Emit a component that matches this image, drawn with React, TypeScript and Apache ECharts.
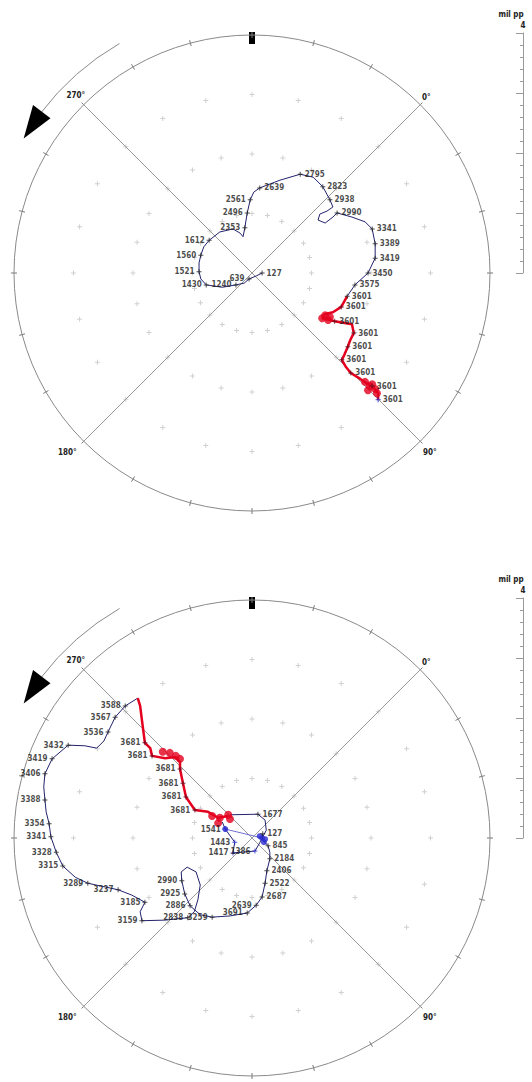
import React, { useEffect, useRef } from "react";
import * as echarts from "echarts";

type P = [number, number, string?];

// ---- Top orbit (mil pp; x to the right, y up) ----
const topRun: P[] = [
  [0.17, 0.0, "127"], [0.07, -0.05], [-0.05, -0.1, "639"], [-0.13, -0.17], [-0.27, -0.2, "1240"],
  [-0.5, -0.24], [-0.77, -0.2, "1430"], [-0.86, -0.1], [-0.89, 0.02, "1521"], [-0.89, 0.17],
  [-0.86, 0.3, "1560"], [-0.81, 0.44], [-0.72, 0.55, "1612"], [-0.54, 0.69], [-0.32, 0.74],
  [-0.2, 0.67], [-0.15, 0.61], [-0.12, 0.76, "2353"], [-0.1, 0.89], [-0.08, 1.01, "2496"],
  [-0.03, 1.23, "2561"], [0.03, 1.36], [0.13, 1.43, "2639"], [0.47, 1.56], [0.81, 1.66, "2795"],
  [1.03, 1.61], [1.19, 1.45, "2823"], [1.31, 1.23, "2938"], [1.36, 1.11], [1.26, 1.04], [1.14, 0.99],
  [1.11, 0.89], [1.23, 0.84], [1.36, 0.94], [1.43, 1.01, "2990"], [1.68, 0.94], [1.9, 0.86],
  [2.02, 0.74, "3341"], [2.07, 0.49, "3389"], [2.07, 0.25, "3419"], [1.95, 0.0, "3450"],
  [1.73, -0.2, "3575"], [1.6, -0.39, "3601"],
];
const topDwell: P[] = [
  [1.6, -0.39], [1.5, -0.57, "3601"], [1.36, -0.66], [1.23, -0.69], [1.18, -0.76], [1.39, -0.81, "3601"],
  [1.68, -0.86], [1.71, -1.01, "3601"], [1.65, -1.13], [1.61, -1.24, "3601"], [1.55, -1.38],
  [1.51, -1.46, "3601"], [1.58, -1.58], [1.66, -1.68, "3601"], [1.82, -1.78], [1.92, -1.85],
  [2.02, -1.9, "3601"], [2.12, -2.02], [2.12, -2.13],
];
const topBlobs: number[][] = [
  [1.23, -0.71], [1.31, -0.74], [1.18, -0.76], [1.28, -0.79], [1.9, -1.83], [1.98, -1.9],
  [2.07, -1.95], [1.95, -1.97], [2.1, -2.02], [2.02, -1.87],
];
const topEnd: P[] = [[2.12, -2.13, "3601"]];

// ---- Bottom orbit ----
const bottomRun: P[] = [
  [0.18, 0.07, "127"], [0.17, -0.03], [0.27, -0.13, "845"], [0.3, -0.24], [0.3, -0.35, "2184"],
  [0.25, -0.55, "2406"], [0.22, -0.76, "2522"], [0.17, -0.99, "2687"], [0.07, -1.13, "2639"],
  [-0.08, -1.26, "3691"], [-0.37, -1.31], [-0.67, -1.33, "3259"], [-0.87, -1.29],
  [-1.04, -1.14, "2886"], [-1.13, -0.94, "2925"], [-1.18, -0.72, "2990"], [-1.19, -0.57],
  [-1.09, -0.49], [-0.94, -0.57], [-0.87, -0.79], [-0.91, -1.04], [-0.97, -1.24],
  [-1.08, -1.34, "2838"], [-1.46, -1.38], [-1.85, -1.39, "3159"], [-1.88, -1.24],
  [-1.8, -1.08, "3185"], [-2.02, -0.96], [-2.25, -0.87, "3237"], [-2.76, -0.76, "3289"],
  [-2.97, -0.66], [-3.18, -0.47, "3315"], [-3.29, -0.24, "3328"], [-3.38, 0.02, "3341"],
  [-3.41, 0.24, "3354"], [-3.46, 0.44], [-3.48, 0.64, "3388"], [-3.5, 0.86], [-3.48, 1.08, "3406"],
  [-3.36, 1.33, "3419"], [-3.09, 1.56, "3432"], [-2.81, 1.55], [-2.61, 1.51], [-2.49, 1.63],
  [-2.42, 1.78, "3536"], [-2.3, 2.03, "3567"], [-2.13, 2.22, "3588"], [-1.92, 2.35],
];
const bottomDwell: P[] = [
  [-1.92, 2.35], [-1.88, 2.22], [-1.85, 1.98], [-1.8, 1.6, "3681"], [-1.71, 1.51], [-1.68, 1.38, "3681"],
  [-1.46, 1.34], [-1.29, 1.36], [-1.21, 1.28], [-1.21, 1.16, "3681"], [-1.16, 0.92, "3681"],
  [-1.11, 0.69, "3681"], [-0.96, 0.47, "3681"], [-0.74, 0.44], [-0.57, 0.34], [-0.4, 0.37],
];
const bottomBlobs: number[][] = [
  [-1.28, 1.38], [-1.21, 1.33], [-1.38, 1.43], [-1.5, 1.45], [-0.67, 0.37], [-0.54, 0.34],
  [-0.4, 0.39], [-0.57, 0.25], [-0.37, 0.32],
];
const bottomCoastA: P[] = [[-0.37, 0.39], [0.1, 0.4, "1677"], [0.22, 0.3], [0.24, 0.13], [0.17, 0.0]];
const bottomCoastB: P[] = [
  [-0.5, 0.27], [-0.45, 0.15, "1541"], [-0.29, -0.07, "1443"], [-0.32, -0.25, "1417"],
  [0.05, -0.22, "1386"], [0.13, -0.08], [0.17, 0.0],
];
const bottomBlue: number[][] = [[0.17, 0.0], [0.2, -0.07], [0.13, 0.03], [0.22, -0.02], [-0.45, 0.15]];

// ---- structure ----
const ringRadii = [1, 2, 3];
const scaleMax = 4;
const degLabels = ["270°", "0°", "180°", "90°"];

const FONT = "'Liberation Sans Narrow','DejaVu Sans Condensed','Liberation Sans',sans-serif";
const CROSS = "path://M2,0H3V2H5V3H3V5H2V3H0V2H2Z";
const NAVY = "#22226e";
const RED = "#e4001e";
const CX = 252;
const CYS = [273, 838];
const R = 238;
const deg = Math.PI / 180;

function gridDots(): number[][] {
  const out: number[][] = [];
  ringRadii.forEach((r) => {
    for (let a = 0; a < 360; a += 15) out.push([r * Math.cos(a * deg), r * Math.sin(a * deg)]);
  });
  return out;
}

function line(g: number, pts: P[] | number[][], color: string, width: number, z = 3) {
  return {
    type: "line", xAxisIndex: g, yAxisIndex: g, data: pts.map((p: any) => [p[0], p[1]]),
    symbol: "none", showSymbol: false, lineStyle: { color, width }, silent: true, z, clip: false,
  };
}
function labels(g: number, pts: P[], color: string) {
  return {
    type: "scatter", xAxisIndex: g, yAxisIndex: g, symbol: CROSS, symbolSize: 5,
    itemStyle: { color }, z: 8, silent: true, clip: false,
    data: pts.filter((p) => p[2]).map((p) => ({
      name: p[2], value: [p[0], p[1]], label: { position: p[0] < 0.09 ? "left" : "right" },
    })),
    label: { show: true, formatter: "{b}", fontSize: 8, fontWeight: "bold", color: "#1a1a1a", distance: 2, fontFamily: FONT },
  };
}
function blobs(g: number, pts: number[][], color: string, size: number) {
  return {
    type: "scatter", xAxisIndex: g, yAxisIndex: g, symbol: "circle", symbolSize: size,
    itemStyle: { color }, data: pts, z: 5, silent: true, clip: false,
  };
}
function structure(g: number) {
  const c = scaleMax * Math.SQRT1_2;
  return [
    {
      type: "scatter", xAxisIndex: g, yAxisIndex: g, symbol: CROSS, symbolSize: 5,
      itemStyle: { color: "#c4c4c4" }, data: gridDots(), z: 1, silent: true,
    },
    line(g, [[-c, c], [c, -c]], "#9a9a9a", 1, 2),
    line(g, [[-c, -c], [c, c]], "#9a9a9a", 1, 2),
  ];
}

function decorations(cy: number) {
  const pt = (a: number, r: number) => [CX + r * Math.cos(a * deg), cy + r * Math.sin(a * deg)];
  const t = (text: string, x: number, y: number, align: string) => ({
    type: "text", x, y, silent: true,
    style: { text, align, verticalAlign: "middle", fontSize: 8, fontWeight: "bold", fontFamily: FONT, fill: "#222" },
  });
  return [
    { type: "arc", shape: { cx: CX, cy, r: 265, startAngle: 217 * deg, endAngle: 240 * deg }, style: { stroke: "#8a8a8a", lineWidth: 1, fill: null } },
    { type: "polygon", shape: { points: [pt(210.5, 265), pt(217.5, 276), pt(217.5, 254)] }, style: { fill: "#000" } },
    { type: "rect", shape: { x: CX - 3, y: cy - R - 3, width: 6, height: 12 }, style: { fill: "#000" } },
    t(degLabels[0], 85, cy - 178, "right"),
    t(degLabels[1], 422, cy - 176, "left"),
    t(degLabels[2], 58, cy + 179, "left"),
    t(degLabels[3], 423, cy + 179, "left"),
    t("mil pp", 511, cy - 259, "center"),
    t(String(scaleMax), 523, cy - 248, "center"),
  ];
}

export default function App() {
  const ref = useRef<HTMLDivElement>(null);
  useEffect(() => {
    if (!ref.current) return;
    const chart = echarts.init(ref.current, undefined, { renderer: "svg" });
    const grids: any[] = CYS.map((cy) => ({ left: CX - R, top: cy - R, width: 2 * R, height: 2 * R }));
    CYS.forEach((cy) => grids.push({ left: 523, top: cy - 240, width: 1, height: 240 }));
    const xAxis: any[] = [0, 1, 2, 3].map((i) =>
      i < 2
        ? { gridIndex: i, type: "value", min: -scaleMax, max: scaleMax, show: false }
        : { gridIndex: i, type: "value", show: false }
    );
    const yAxis: any[] = [0, 1, 2, 3].map((i) =>
      i < 2
        ? { gridIndex: i, type: "value", min: -scaleMax, max: scaleMax, show: false }
        : {
            gridIndex: i, type: "value", min: 0, max: scaleMax, interval: 1, position: "left",
            axisLine: { show: true, lineStyle: { color: "#9a9a9a" } },
            axisTick: { show: true, length: 7, lineStyle: { color: "#9a9a9a" } },
            minorTick: { show: true, splitNumber: 5, length: 3, lineStyle: { color: "#9a9a9a" } },
            axisLabel: { show: false }, splitLine: { show: false },
          }
    );
    const polar: any[] = [];
    const angleAxis: any[] = [];
    const radiusAxis: any[] = [];
    CYS.forEach((cy) => {
      [false, true].forEach((inside) => {
        const idx = polar.length;
        polar.push({ center: [CX, cy], radius: R });
        angleAxis.push({
          polarIndex: idx, type: "value", min: 0, max: 360, interval: 15, startAngle: 90,
          axisLine: { show: !inside, lineStyle: { color: "#8a8a8a", width: 1 } },
          axisTick: { show: true, inside, length: 3, lineStyle: { color: "#777" } },
          axisLabel: { show: false }, splitLine: { show: false },
        });
        radiusAxis.push({ polarIndex: idx, min: 0, max: scaleMax, show: false });
      });
    });
    const series: any[] = [
      ...structure(0),
      line(0, topRun, NAVY, 1),
      line(0, topDwell, RED, 2.5, 4),
      blobs(0, topBlobs, RED, 8),
      labels(0, topRun, "#222"),
      labels(0, topDwell, "#5a1020"),
      labels(0, topEnd, "#2a2ad0"),
      ...structure(1),
      line(1, bottomRun, NAVY, 1),
      line(1, bottomCoastA, NAVY, 1),
      line(1, bottomCoastB, NAVY, 1),
      line(1, [bottomCoastB[1], bottomCoastB[6]], "#7070d0", 1),
      line(1, bottomDwell, RED, 2.5, 4),
      blobs(1, bottomBlobs, RED, 8),
      blobs(1, bottomBlue, "#2a2ad0", 6),
      labels(1, bottomRun, "#222"),
      labels(1, bottomDwell, "#5a1020"),
      labels(1, bottomCoastA, "#222"),
      labels(1, bottomCoastB, "#2a2ad0"),
    ];
    chart.setOption({
      animation: false,
      backgroundColor: "#fff",
      grid: grids, xAxis, yAxis, polar, angleAxis, radiusAxis, series,
      graphic: [...decorations(CYS[0]), ...decorations(CYS[1])],
    });
    return () => chart.dispose();
  }, []);
  return <div ref={ref} style={{ position: "fixed", left: 0, top: 0, width: 532, height: 1082 }} />;
}
